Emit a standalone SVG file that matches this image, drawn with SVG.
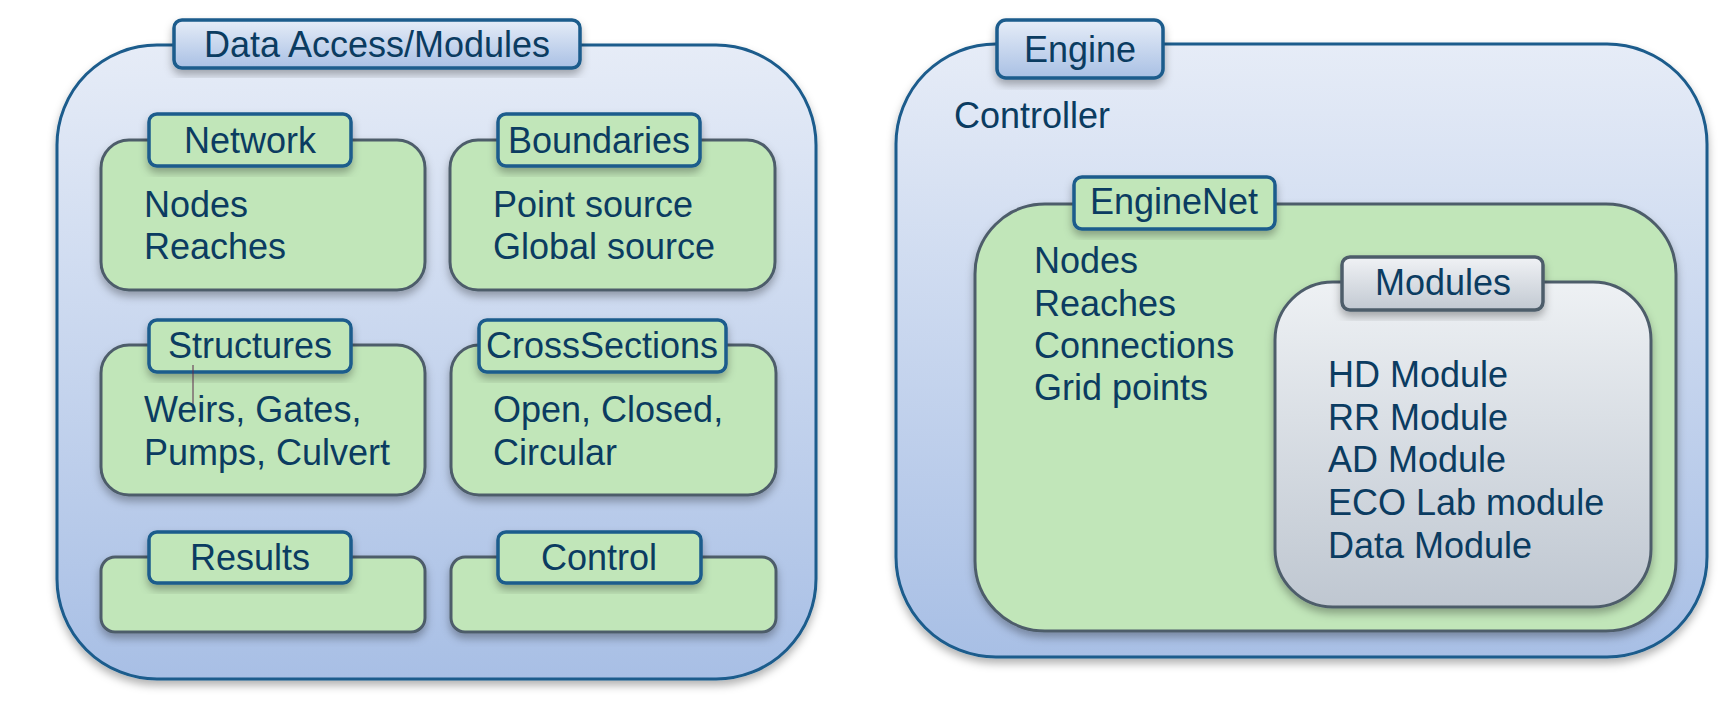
<svg xmlns="http://www.w3.org/2000/svg" width="1736" height="724" viewBox="0 0 1736 724">
<defs>
<linearGradient id="gOuter" x1="0" y1="0" x2="0" y2="1"><stop offset="0" stop-color="#e6ecf7"/><stop offset="1" stop-color="#a8bfe5"/></linearGradient>
<linearGradient id="gTab" x1="0" y1="0" x2="0" y2="1"><stop offset="0" stop-color="#e6edf8"/><stop offset="1" stop-color="#a9c0e4"/></linearGradient>
<linearGradient id="gGray" x1="0" y1="0" x2="0" y2="1"><stop offset="0" stop-color="#eef1f4"/><stop offset="1" stop-color="#bfc7d1"/></linearGradient>
<linearGradient id="gGrayTab" x1="0" y1="0" x2="0" y2="1"><stop offset="0" stop-color="#f0f2f5"/><stop offset="1" stop-color="#c2c9d2"/></linearGradient>
<filter id="sh" x="-10%" y="-10%" width="120%" height="130%"><feDropShadow dx="0" dy="5" stdDeviation="4" flood-color="#000" flood-opacity="0.3"/></filter>
<style>
text{font-family:"Liberation Sans",Arial,sans-serif;font-size:36px;fill:#0b3c61}
.outer{fill:url(#gOuter);stroke:#1a5b8c;stroke-width:3}
.tab{fill:url(#gTab);stroke:#1a5b8c;stroke-width:3.5}
.box{fill:#c1e6b9;stroke:#4e5d6b;stroke-width:3}
.gtab{fill:#c1e6b9;stroke:#1a5b8c;stroke-width:3.5}
.gray{fill:url(#gGray);stroke:#4e5d6b;stroke-width:3}
.graytab{fill:url(#gGrayTab);stroke:#4e5d6b;stroke-width:3.5}
.c{text-anchor:middle}
</style>
</defs>

<g id="data-access">
<rect class="outer" x="57" y="45" width="759" height="634" rx="100" filter="url(#sh)"/>
<rect class="tab" x="174" y="20" width="406" height="48" rx="8" filter="url(#sh)"/>
<text class="c" x="377" y="57">Data Access/Modules</text>
</g>

<g id="network">
<rect class="box" x="101" y="140" width="324" height="150" rx="28" filter="url(#sh)"/>
<rect class="gtab" x="149" y="114" width="202" height="52" rx="8" filter="url(#sh)"/>
<text class="c" x="250" y="153">Network</text>
<text x="144" y="217">Nodes</text>
<text x="144" y="259">Reaches</text>
</g>

<g id="boundaries">
<rect class="box" x="450" y="140" width="325" height="150" rx="28" filter="url(#sh)"/>
<rect class="gtab" x="498" y="114" width="202" height="52" rx="8" filter="url(#sh)"/>
<text class="c" x="599" y="153">Boundaries</text>
<text x="493" y="217">Point source</text>
<text x="493" y="259">Global source</text>
</g>

<g id="structures">
<rect class="box" x="101" y="345" width="324" height="150" rx="28" filter="url(#sh)"/>
<rect class="gtab" x="149" y="320" width="202" height="52" rx="8" filter="url(#sh)"/>
<text class="c" x="250" y="358">Structures</text>
<line x1="193" y1="365" x2="193" y2="405" stroke="#5a2a4a" stroke-width="1"/>
<text x="144" y="422">Weirs, Gates,</text>
<text x="144" y="465">Pumps, Culvert</text>
</g>

<g id="crosssections">
<rect class="box" x="451" y="345" width="325" height="150" rx="28" filter="url(#sh)"/>
<rect class="gtab" x="479" y="320" width="247" height="52" rx="8" filter="url(#sh)"/>
<text class="c" x="602" y="358">CrossSections</text>
<text x="493" y="422">Open, Closed,</text>
<text x="493" y="465">Circular</text>
</g>

<g id="results">
<rect class="box" x="101" y="557" width="324" height="75" rx="14" filter="url(#sh)"/>
<rect class="gtab" x="149" y="532" width="202" height="51" rx="8" filter="url(#sh)"/>
<text class="c" x="250" y="570">Results</text>
</g>

<g id="control">
<rect class="box" x="451" y="557" width="325" height="75" rx="14" filter="url(#sh)"/>
<rect class="gtab" x="498" y="532" width="203" height="51" rx="8" filter="url(#sh)"/>
<text class="c" x="599" y="570">Control</text>
</g>

<g id="engine">
<rect class="outer" x="896" y="44" width="811" height="613" rx="100" filter="url(#sh)"/>
<rect class="tab" x="997" y="20" width="166" height="58" rx="9" filter="url(#sh)"/>
<text class="c" x="1080" y="62">Engine</text>
<text x="954" y="128">Controller</text>
</g>

<g id="enginenet">
<rect class="box" x="975" y="204" width="701" height="427" rx="70" filter="url(#sh)"/>
<rect class="gtab" x="1074" y="177" width="201" height="52" rx="8" filter="url(#sh)"/>
<text class="c" x="1174" y="214">EngineNet</text>
<text x="1034" y="273">Nodes</text>
<text x="1034" y="316">Reaches</text>
<text x="1034" y="358">Connections</text>
<text x="1034" y="400">Grid points</text>
</g>

<g id="modules">
<rect class="gray" x="1275" y="282" width="376" height="325" rx="58" filter="url(#sh)"/>
<rect class="graytab" x="1342" y="257" width="201" height="53" rx="8" filter="url(#sh)"/>
<text class="c" x="1443" y="295">Modules</text>
<text x="1328" y="387">HD Module</text>
<text x="1328" y="430">RR Module</text>
<text x="1328" y="472">AD Module</text>
<text x="1328" y="515">ECO Lab module</text>
<text x="1328" y="558">Data Module</text>
</g>

<g id="connectors"></g>
</svg>
